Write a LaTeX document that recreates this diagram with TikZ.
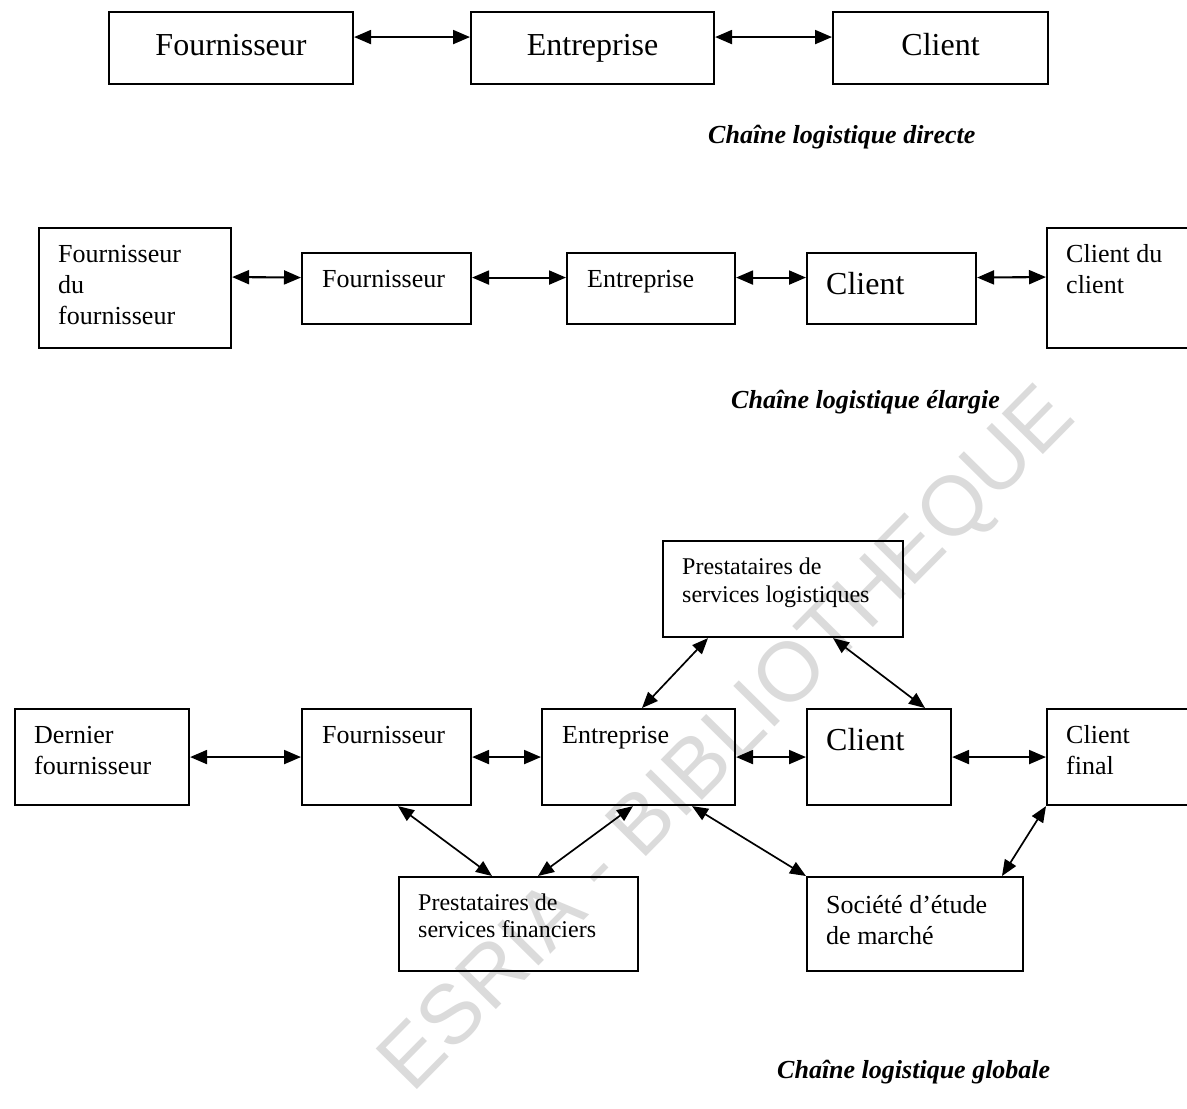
\documentclass[tikz,border=0pt]{standalone}
\usepackage{fontspec}
\setmainfont{Liberation Serif}
\newfontfamily\wmfont{Liberation Sans}
\usetikzlibrary{arrows.meta}

\begin{document}
\begin{tikzpicture}[x=1pt,y=-1pt,
  box/.style={draw, line width=2.1pt, inner sep=0pt, anchor=north west},
  % multi-line labels are placed by the baseline of their last line
  txt/.style={anchor=base west, inner sep=0pt, align=left,
              font=\fontsize{26}{31}\selectfont},
  smalltxt/.style={txt, font=\fontsize{24}{28}\selectfont},
  bigtxt/.style={font=\fontsize{32}{36}\selectfont},
  link/.style={line width=2.1pt,
               {Triangle[length=17pt,width=14pt]}-{Triangle[length=17pt,width=14pt]}},
  diag/.style={line width=1.7pt,
               {Triangle[length=16pt,width=13pt]}-{Triangle[length=16pt,width=13pt]}},
  caption/.style={anchor=base west, inner sep=0pt,
                  font=\fontsize{26}{30}\selectfont\bfseries\itshape}]

\useasboundingbox (0,0) rectangle (1187,1109);
\clip (0,0) rectangle (1187,1109);

% watermark
\node[rotate=45.4, inner sep=0pt, text=black!14,
      font=\wmfont\fontsize{84}{84}\selectfont] (wm) at (730,742) {ESRIA - BIBLIOTHEQUE};

% ---------- direct chain ----------
\node[box, bigtxt, text height=22pt, text depth=7pt,
      minimum width=244pt, minimum height=72pt] (f1) at (108,11) {Fournisseur};
\node[box, bigtxt, text height=22pt, text depth=7pt,
      minimum width=243pt, minimum height=72pt] (e1) at (470,11) {Entreprise};
\node[box, bigtxt, text height=22pt, text depth=7pt,
      minimum width=215pt, minimum height=72pt] (c1) at (832,11) {Client};
\draw[link] ([yshift=11pt]f1.east) -- ([yshift=11pt]e1.west);
\draw[link] ([yshift=11pt]e1.east) -- ([yshift=11pt]c1.west);
\node[caption] (cap1) at (708,143) {Chaîne logistique directe};

% ---------- extended chain ----------
\node[box, minimum width=192pt, minimum height=120pt] (ff2) at (38,227) {};
\node[box, minimum width=169pt, minimum height=71pt] (f2) at (301,252) {};
\node[box, minimum width=168pt, minimum height=71pt] (e2) at (566,252) {};
\node[box, minimum width=169pt, minimum height=71pt] (c2) at (806,252) {};
\node[box, minimum width=160pt, minimum height=120pt] (cc2) at (1046,227) {};

\node[txt] (tff2) at (58,324) {Fournisseur\\du\\fournisseur};
\node[txt] (tf2) at (322,287) {Fournisseur};
\node[txt] (te2) at (587,287) {Entreprise};
\node[txt, bigtxt] (tc2) at (826,294) {Client};
\node[txt] (tcc2) at (1066,293) {Client du\\client};

\draw[link] ([yshift=11pt]ff2.east) -- ([yshift=11pt]f2.west);
\draw[link] ([yshift=11pt]f2.east) -- ([yshift=11pt]e2.west);
\draw[link] ([yshift=11pt]e2.east) -- ([yshift=11pt]c2.west);
\draw[link] ([yshift=11pt]c2.east) -- ([yshift=11pt]cc2.west);
\node[caption] (cap2) at (731,408) {Chaîne logistique élargie};

% ---------- global chain ----------
\node[box, minimum width=240pt, minimum height=96pt] (log) at (662,540) {};
\node[box, minimum width=174pt, minimum height=96pt] (d3) at (14,708) {};
\node[box, minimum width=169pt, minimum height=96pt] (f3) at (301,708) {};
\node[box, minimum width=193pt, minimum height=96pt] (e3) at (541,708) {};
\node[box, minimum width=144pt, minimum height=96pt] (c3) at (806,708) {};
\node[box, minimum width=160pt, minimum height=96pt] (cf3) at (1046,708) {};
\node[box, minimum width=239pt, minimum height=94pt] (fin) at (398,876) {};
\node[box, minimum width=216pt, minimum height=94pt] (soc) at (806,876) {};

\node[smalltxt] (tlog) at (682,602) {Prestataires de\\services logistiques};
\node[txt] (td3) at (34,774) {Dernier\\fournisseur};
\node[txt] (tf3) at (322,743) {Fournisseur};
\node[txt] (te3) at (562,743) {Entreprise};
\node[txt, bigtxt] (tc3) at (826,750) {Client};
\node[txt] (tcf3) at (1066,774) {Client\\final};
\node[smalltxt, font=\fontsize{24}{27}\selectfont] (tfin) at (418,937) {Prestataires de\\services financiers};
\node[txt] (tsoc) at (826,944) {Société d’étude\\de marché};

\draw[link] (d3.east) -- (f3.west);
\draw[link] (f3.east) -- (e3.west);
\draw[link] (e3.east) -- (c3.west);
\draw[link] (c3.east) -- (cf3.west);

\draw[diag] ([xshift=46pt]log.south west) -- ([xshift=101pt]e3.north west);
\draw[diag] ([xshift=171pt]log.south west) -- ([xshift=119pt]c3.north west);
\draw[diag] ([xshift=97pt]f3.south west) -- ([xshift=94pt]fin.north west);
\draw[diag] ([xshift=92pt]e3.south west) -- ([xshift=140pt]fin.north west);
\draw[diag] ([xshift=151pt]e3.south west) -- (soc.north west);
\draw[diag] (cf3.south west) -- ([xshift=196pt]soc.north west);

\node[caption] (cap3) at (777,1078) {Chaîne logistique globale};
\end{tikzpicture}
\end{document}
